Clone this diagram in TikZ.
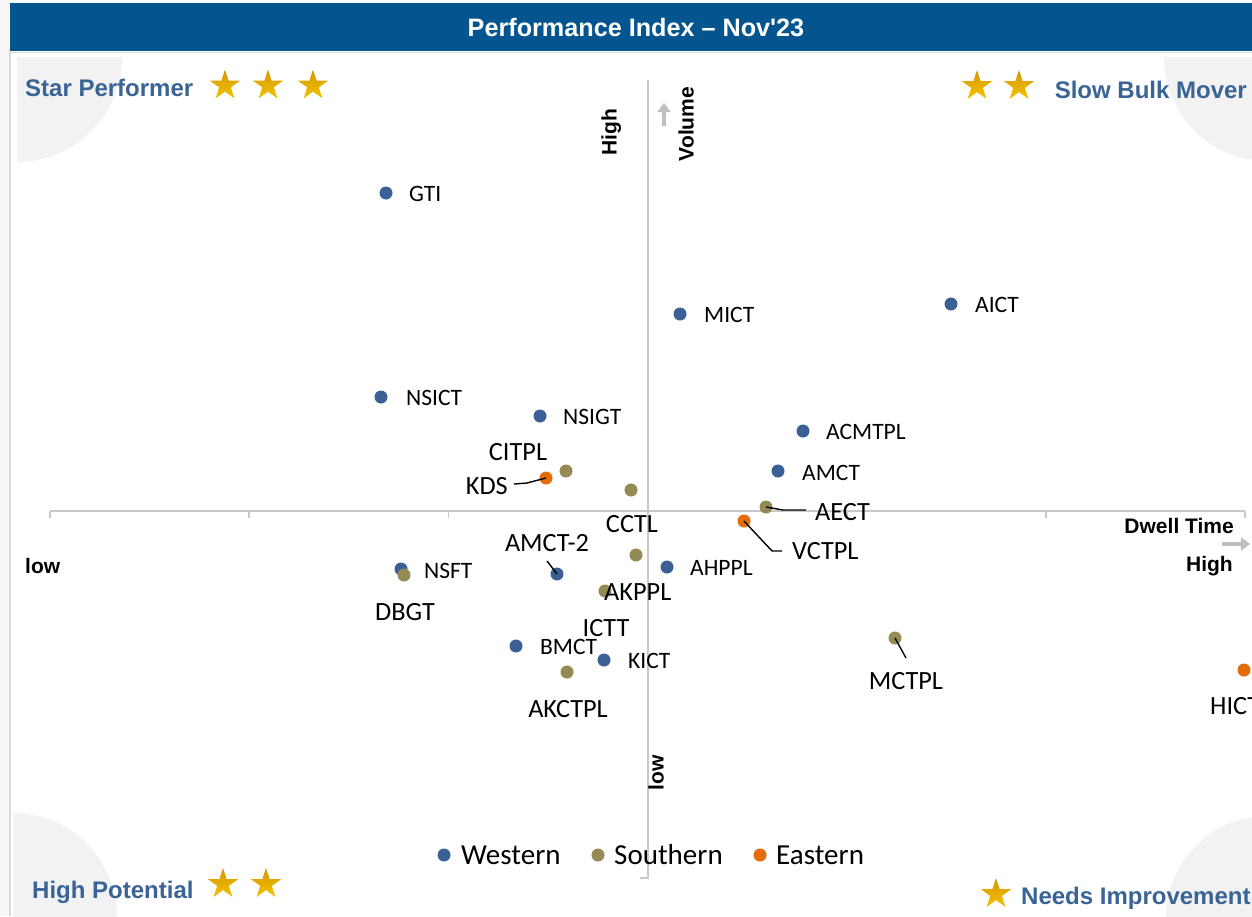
\documentclass[tikz,border=0pt]{standalone}
\usepackage{fontspec}
\setmainfont{Carlito}
\newfontfamily\arialf{Liberation Sans}
\usetikzlibrary{shapes.geometric,arrows.meta}
\definecolor{titleblue}{RGB}{4,85,143}
\definecolor{quadblue}{RGB}{58,100,150}
\definecolor{colW}{RGB}{58,96,150}
\definecolor{colS}{RGB}{148,138,84}
\definecolor{colE}{RGB}{228,108,10}
\definecolor{axisgray}{RGB}{200,200,200}
\definecolor{arrowgray}{RGB}{190,190,190}
\definecolor{quadfill}{RGB}{242,242,242}
\definecolor{borderg}{RGB}{217,217,217}
\definecolor{stripg}{RGB}{247,247,247}
\definecolor{stardark}{RGB}{212,150,0}
\definecolor{starlight}{RGB}{246,194,0}
\begin{document}
\begin{tikzpicture}[x=1pt,y=-1pt,
  dot/.style={circle,inner sep=0pt,minimum size=13pt},
  wdot/.style={dot,fill=colW},
  sdot/.style={dot,fill=colS},
  edot/.style={dot,fill=colE},
  lbl/.style={inner sep=0pt,text height=15.1pt,text depth=0pt,font=\fontsize{23.5}{28}\selectfont},
  lblL/.style={inner sep=0pt,text height=16.9pt,text depth=0pt,font=\fontsize{26.3}{31}\selectfont},
  leglbl/.style={inner sep=0pt,text height=18.7pt,text depth=0pt,font=\fontsize{29}{34}\selectfont},
  quadlbl/.style={inner sep=0pt,text height=17.2pt,text depth=0pt,text=quadblue,font=\arialf\bfseries\fontsize{24}{29}\selectfont},
  axlbl/.style={inner sep=0pt,text height=15.1pt,text depth=0pt,font=\arialf\bfseries\fontsize{21}{25}\selectfont},
  goldstar/.style={star,star points=5,star point ratio=2.618,minimum size=32pt,inner sep=0pt,top color=stardark,bottom color=starlight,draw=none},
  leader/.style={draw=black,line width=1.4pt},
  axisline/.style={draw=axisgray,line width=1.8pt},
  axisarrow/.style={draw=arrowgray,line width=3.5pt,-{Triangle[length=9pt,width=13pt]}}
]
\useasboundingbox (0,0) rectangle (1252,916);
\clip (0,0) rectangle (1252,916);
\fill[white] (0,0) rectangle (1252,916);
\fill[stripg] (0,0) rectangle (9.5,916);
% quadrant backgrounds
\begin{scope}
  \clip (17,57) rectangle (140,180);
  \fill[quadfill] (17,57) circle[radius=105];
\end{scope}
\begin{scope}
  \clip (1140,57) rectangle (1252,180);
  \fill[quadfill] (1268,57) circle[radius=104];
\end{scope}
\begin{scope}
  \clip (13,790) rectangle (140,916);
  \fill[quadfill] (13,917) circle[radius=104];
\end{scope}
\begin{scope}
  \clip (1140,790) rectangle (1252,916);
  \fill[quadfill] (1268,918) circle[radius=102];
\end{scope}
% frame
\fill[titleblue] (10,3) rectangle (1252,51);
\draw[borderg,line width=1.5pt] (10,51) -- (10,916);
\draw[borderg,line width=1.5pt] (10,52.5) -- (1252,52.5);
\node[text=white,font=\arialf\bfseries\fontsize{25.2}{30}\selectfont,inner sep=0pt] (title) at (636,28) {Performance Index – Nov'23};
% axes
\coordinate (xl) at (50,511);
\coordinate (xr) at (1245,511);
\coordinate (yt) at (648,80);
\coordinate (yb) at (648,878);
\coordinate (ybt) at (640,878);
\draw[axisline] (xl) -- (xr);
\foreach \k in {0,...,6} {
  \draw[axisline] ({50+199.2*\k},511) -- ({50+199.2*\k},518);
}
\draw[axisline] (yt) -- (yb) -- (ybt);
\coordinate (ua1) at (664,126);
\coordinate (ua2) at (664,103);
\draw[axisarrow] (ua1) -- (ua2);
\coordinate (ra1) at (1222,544);
\coordinate (ra2) at (1250,544);
\draw[axisarrow] (ra1) -- (ra2);
% axis labels
\node[axlbl,rotate=90] (yhigh) at (609,132) {High};
\node[axlbl,rotate=90] (yvol) at (686,124) {Volume};
\node[axlbl,rotate=90] (ylow) at (656,773) {low};
\node[axlbl,anchor=west] (xlow) at (25,566) {low};
\node[axlbl,anchor=east] (xdwell) at (1234,526) {Dwell Time};
\node[axlbl,anchor=east] (xhigh) at (1233,564) {High};
% quadrant labels
\node[quadlbl,anchor=west] (qsp) at (25,88) {Star Performer};
\node[goldstar] (s1) at (225,85.5) {};
\node[goldstar] (s2) at (268,85.5) {};
\node[goldstar] (s3) at (313,85.5) {};
\node[quadlbl,anchor=east] (qsb) at (1247,90) {Slow Bulk Mover};
\node[goldstar] (s4) at (977,86) {};
\node[goldstar] (s5) at (1019,86) {};
\node[quadlbl,anchor=west] (qhp) at (32,890) {High Potential};
\node[goldstar] (s6) at (223,884) {};
\node[goldstar] (s7) at (266,884) {};
\node[goldstar] (s8) at (996,894) {};
\node[quadlbl,anchor=west] (qni) at (1021,896) {Needs Improvement};
% Western dots
\node[wdot] (gti) at (386,193) {};
\node[wdot] (mict) at (680,314) {};
\node[wdot] (aict) at (951,304) {};
\node[wdot] (nsict) at (381,397) {};
\node[wdot] (nsigt) at (540,416) {};
\node[wdot] (acmtpl) at (803,431) {};
\node[wdot] (amct) at (778,471) {};
\node[wdot] (ahppl) at (667,567) {};
\node[wdot] (nsft) at (401,569) {};
\node[wdot] (amct2) at (557,574) {};
\node[wdot] (bmct) at (516,646) {};
\node[wdot] (kict) at (604,660) {};
% Southern dots
\node[sdot] (citpl) at (566,471) {};
\node[sdot] (cctl) at (631,490) {};
\node[sdot] (aect) at (766,507) {};
\node[sdot] (dbgt) at (404,575) {};
\node[sdot] (akppl) at (605,591) {};
\node[sdot] (ictt) at (636,555) {};
\node[sdot] (akctpl) at (567,672) {};
\node[sdot] (mctpl) at (895,638) {};
% Eastern dots
\node[edot] (kds) at (546,478) {};
\node[edot] (vctpl) at (744,521) {};
\node[edot] (hict) at (1244,670) {};
% labels
\node[lbl,anchor=west] (lgti) at (409,194) {GTI};
\node[lbl,anchor=west] (lmict) at (704,315) {MICT};
\node[lbl,anchor=west] (laict) at (975,305) {AICT};
\node[lbl,anchor=west] (lnsict) at (406,398) {NSICT};
\node[lbl,anchor=west] (lnsigt) at (563,417) {NSIGT};
\node[lbl,anchor=west] (lacmtpl) at (826,432) {ACMTPL};
\node[lbl,anchor=west] (lamct) at (802,473) {AMCT};
\node[lbl,anchor=west] (lahppl) at (690,568) {AHPPL};
\node[lbl,anchor=west] (lnsft) at (424,571) {NSFT};
\node[lbl,anchor=west] (lbmct) at (540,647) {BMCT};
\node[lbl,anchor=west] (lkict) at (628,661) {KICT};
\node[lblL] (lamct2) at (547,543) {AMCT-2};
\node[lblL] (lcitpl) at (518,452) {CITPL};
\node[lblL] (lcctl) at (632,524) {CCTL};
\node[lblL,anchor=west] (laect) at (815,512) {AECT};
\node[lblL] (ldbgt) at (405,612) {DBGT};
\node[lblL,anchor=west] (lakppl) at (604,592) {AKPPL};
\node[lblL] (lictt) at (606,628) {ICTT};
\node[lblL] (lakctpl) at (568,709) {AKCTPL};
\node[lblL] (lmctpl) at (906,681) {MCTPL};
\node[lblL,anchor=east] (lkds) at (508,486) {KDS};
\node[lblL,anchor=west] (lvctpl) at (792,551) {VCTPL};
\node[lblL,anchor=west] (lhict) at (1210,706) {HICT};
% leader lines
\coordinate (kdsA) at (527,483);
\coordinate (kdsB) at (514,484);
\draw[leader] (kds.center) -- (kdsA) -- (kdsB);
\coordinate (amA) at (547,561);
\draw[leader] (amA) -- (amct2.center);
\coordinate (aeA) at (783,510);
\coordinate (aeB) at (806,510);
\draw[leader] (aect.center) -- (aeA) -- (aeB);
\coordinate (vcA) at (772,551);
\coordinate (vcB) at (782,551);
\draw[leader] (vctpl.center) -- (vcA) -- (vcB);
\coordinate (mcA) at (906,658);
\draw[leader] (mctpl.center) -- (mcA);
% legend
\node[wdot] (legW) at (444,855) {};
\node[leglbl,anchor=west] (legWt) at (461,855) {Western};
\node[sdot] (legS) at (598,855) {};
\node[leglbl,anchor=west] (legSt) at (614,855) {Southern};
\node[edot] (legE) at (760,855) {};
\node[leglbl,anchor=west] (legEt) at (776,855) {Eastern};
\end{tikzpicture}
\end{document}
